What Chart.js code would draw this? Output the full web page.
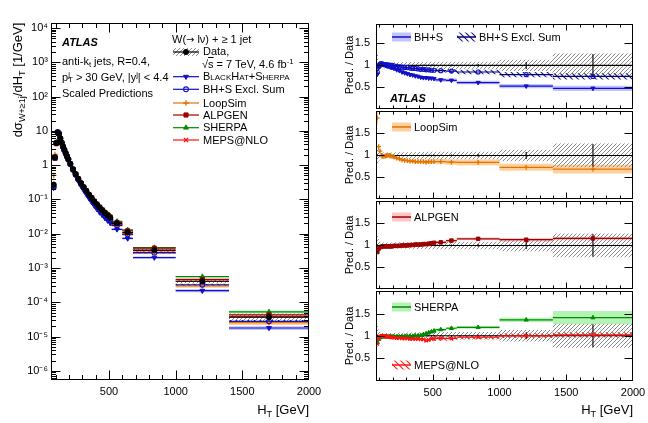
<!DOCTYPE html>
<html><head><meta charset="utf-8">
<script src="https://cdn.jsdelivr.net/npm/chart.js@4.4.1/dist/chart.umd.min.js"></script>
<style>
html,body{margin:0;padding:0;}
body{width:648px;height:423px;position:relative;overflow:hidden;background:#fff;font-family:"Liberation Sans",Arial,Helvetica,sans-serif;color:#000;}
canvas{position:absolute;display:block;}
.t{position:absolute;white-space:nowrap;line-height:1;}
.f12{font-size:12px;} .f11{font-size:11px;} .f13{font-size:13px;}
.atl{font-weight:bold;font-style:italic;}
.rot{position:absolute;white-space:nowrap;line-height:1;transform:translate(-50%,-50%) rotate(-90deg);}
sub,sup{font-size:70%;line-height:0;position:relative;vertical-align:baseline;}
sub{bottom:-0.3em;} sup{top:-0.5em;}
.ss{display:inline-block;vertical-align:-0.25em;line-height:0.75;font-size:70%;text-align:left;}
.sc{font-variant:small-caps;}
.dj{font-family:"DejaVu Sans",sans-serif;font-size:90%;}
</style></head><body>
<canvas id="cMain" width="329" height="423" style="left:0;top:0;width:329px;height:423px"></canvas>
<canvas id="cP1" width="326" height="111" style="left:330px;top:11px;width:326px;height:111px"></canvas>
<canvas id="cP2" width="326" height="114" style="left:330px;top:98px;width:326px;height:114px"></canvas>
<canvas id="cP3" width="326" height="114" style="left:330px;top:188px;width:326px;height:114px"></canvas>
<canvas id="cP4" width="326" height="145" style="left:330px;top:278px;width:326px;height:145px"></canvas>

<!-- left panel texts -->
<div class="rot f13" style="left:17px;top:80px">dσ<sub>W+≥1j</sub>/dH<sub>T</sub> [1/GeV]</div>
<div class="t f13" style="right:339px;top:403px">H<sub>T</sub> [GeV]</div>
<div class="t f11 atl" style="left:62px;top:36.5px">ATLAS</div>
<div class="t f11" style="left:62px;top:55.5px">anti-k<sub>t</sub> jets, R=0.4,</div>
<div class="t f11" style="left:62px;top:71.5px">p<span class="ss">j<br>T</span> &gt; 30 GeV, |y<sup>j</sup>| &lt; 4.4</div>
<div class="t f11" style="left:62px;top:87.5px">Scaled Predictions</div>
<div class="t f11" style="left:172px;top:33.5px">W(<span class="dj">→</span> lν) + ≥ 1 jet</div>
<div class="t f11" style="left:203px;top:46px">Data,</div>
<div class="t f11" style="left:202px;top:58.5px">√<span style="text-decoration:overline">s</span> = 7 TeV, 4.6 fb<sup>-1</sup></div>
<div class="t f11" style="left:203px;top:71px"><span class="sc">BlackHat+Sherpa</span></div>
<div class="t f11" style="left:203px;top:83.5px">BH+S Excl. Sum</div>
<div class="t f11" style="left:203px;top:97.5px">LoopSim</div>
<div class="t f11" style="left:203px;top:109.5px">ALPGEN</div>
<div class="t f11" style="left:203px;top:122px">SHERPA</div>
<div class="t f11" style="left:203px;top:134.5px">MEPS@NLO</div>

<!-- right panel texts -->
<div class="rot f11" style="left:349px;top:65px">Pred. / Data</div>
<div class="rot f11" style="left:349px;top:155px">Pred. / Data</div>
<div class="rot f11" style="left:349px;top:245px">Pred. / Data</div>
<div class="rot f11" style="left:349px;top:336px">Pred. / Data</div>
<div class="t f13" style="right:15px;top:403px">H<sub>T</sub> [GeV]</div>
<div class="t f11" style="left:414px;top:31.5px">BH+S</div>
<div class="t f11" style="left:479px;top:31.5px">BH+S Excl. Sum</div>
<div class="t f11 atl" style="left:390px;top:92.5px">ATLAS</div>
<div class="t f11" style="left:414px;top:121.5px">LoopSim</div>
<div class="t f11" style="left:414px;top:211.5px">ALPGEN</div>
<div class="t f11" style="left:414px;top:301.5px">SHERPA</div>
<div class="t f11" style="left:414px;top:359.5px">MEPS@NLO</div>

<script>
// ---------------- data ----------------
const binEdges = [80,90,100,110,120,130,140,150,160,170,180,190,200,220,240,260,280,300,320,340,360,380,400,420,440,460,480,500,520,600,680,1000,1400,2000];
// measured dsigma/dHT [1/GeV]
const dataXsec = [0.27,1.7,4.4,9.0,8.2,6.0,4.5,3.5,2.8,2.25,1.82,1.48,1.1,0.76,0.55,0.40,0.30,0.23,0.178,0.138,0.11,0.087,0.071,0.058,0.048,0.040,0.034,0.029,0.020,0.011,0.0033,0.00041,0.000037];
// relative statistical error of data
const dataStatRel = [0.02,0.01,0.005,0.005,0.005,0.005,0.005,0.005,0.005,0.005,0.005,0.005,0.005,0.005,0.005,0.006,0.006,0.007,0.008,0.009,0.01,0.011,0.012,0.013,0.015,0.016,0.018,0.02,0.015,0.02,0.03,0.08,0.26];
// relative total uncertainty band of data
const dataBandRel = [0.24,0.14,0.09,0.07,0.065,0.065,0.065,0.065,0.065,0.065,0.065,0.065,0.065,0.07,0.07,0.07,0.07,0.075,0.075,0.075,0.08,0.08,0.08,0.08,0.085,0.085,0.085,0.085,0.085,0.085,0.085,0.13,0.27];
// prediction / data ratios and their band half-widths
const ratioBHS = [0.80,0.95,1.02,1.03,1.02,1.01,1.00,0.99,0.98,0.97,0.96,0.95,0.93,0.90,0.88,0.85,0.83,0.81,0.79,0.78,0.76,0.75,0.73,0.72,0.72,0.71,0.71,0.70,0.67,0.66,0.61,0.53,0.48];
const bandBHS = [0.06,0.04,0.03,0.03,0.03,0.03,0.03,0.03,0.03,0.03,0.03,0.03,0.03,0.03,0.03,0.03,0.03,0.03,0.03,0.03,0.03,0.03,0.03,0.03,0.03,0.03,0.03,0.03,0.04,0.04,0.04,0.05,0.06];
const ratioBHSExcl = [0.85,0.98,1.03,1.04,1.03,1.02,1.02,1.01,1.01,1.00,1.00,1.00,0.99,0.98,0.97,0.96,0.95,0.95,0.94,0.93,0.93,0.92,0.91,0.91,0.90,0.90,0.89,0.89,0.88,0.87,0.85,0.79,0.75];
const bandBHSExcl = [0.06,0.04,0.03,0.03,0.03,0.03,0.03,0.03,0.03,0.03,0.03,0.03,0.03,0.03,0.03,0.03,0.03,0.03,0.03,0.03,0.03,0.03,0.035,0.035,0.035,0.035,0.035,0.035,0.04,0.04,0.05,0.06,0.07];
const ratioLoopSim = [1.85,1.20,1.10,1.00,0.98,0.98,0.99,0.99,1.00,1.00,0.99,0.98,0.96,0.94,0.92,0.90,0.89,0.88,0.87,0.87,0.86,0.86,0.86,0.86,0.85,0.86,0.86,0.86,0.86,0.85,0.84,0.73,0.69];
const bandLoopSim = [0.15,0.06,0.04,0.03,0.03,0.03,0.03,0.03,0.03,0.03,0.03,0.03,0.03,0.035,0.035,0.035,0.04,0.04,0.04,0.04,0.045,0.045,0.045,0.045,0.05,0.05,0.05,0.05,0.06,0.06,0.07,0.08,0.10];
const ratioAlpgen = [0.85,0.93,0.96,0.97,0.98,0.98,0.98,0.98,0.98,0.98,0.98,0.98,0.99,0.99,0.99,1.00,1.00,1.00,1.01,1.01,1.02,1.02,1.02,1.03,1.03,1.04,1.05,1.06,1.07,1.11,1.15,1.13,1.16];
const bandAlpgen = [0.03,0.02,0.02,0.02,0.02,0.02,0.02,0.02,0.02,0.02,0.02,0.02,0.02,0.02,0.02,0.02,0.02,0.02,0.02,0.02,0.02,0.02,0.02,0.02,0.02,0.025,0.025,0.025,0.03,0.03,0.03,0.04,0.04];
const ratioSherpa = [0.85,0.92,0.96,0.98,0.98,0.98,0.98,0.98,0.98,0.98,0.98,0.98,0.98,0.98,0.98,0.98,0.99,0.99,0.99,0.99,1.00,1.00,1.01,1.03,1.05,1.07,1.09,1.11,1.14,1.17,1.19,1.36,1.41];
const bandSherpa = [0.03,0.02,0.02,0.02,0.02,0.02,0.02,0.02,0.02,0.02,0.02,0.02,0.02,0.02,0.02,0.02,0.02,0.02,0.02,0.02,0.02,0.02,0.02,0.02,0.025,0.025,0.025,0.025,0.03,0.03,0.03,0.05,0.15];
const ratioMeps = [0.82,0.93,0.98,1.00,1.00,0.99,0.99,0.98,0.98,0.97,0.97,0.96,0.96,0.95,0.95,0.94,0.94,0.94,0.93,0.93,0.93,0.93,0.92,0.92,0.89,0.91,0.93,0.93,0.94,0.94,0.97,1.00,1.02];
const bandMeps = [0.06,0.05,0.04,0.04,0.04,0.04,0.04,0.04,0.04,0.04,0.04,0.04,0.04,0.04,0.04,0.04,0.04,0.04,0.04,0.04,0.04,0.04,0.04,0.04,0.04,0.04,0.04,0.04,0.05,0.05,0.05,0.05,0.06];
// axis tick values / labels
const mainXTicks = [500,1000,1500,2000];
const mainXMinor = [100,200,300,400,600,700,800,900,1100,1200,1300,1400,1600,1700,1800,1900];
const mainYDecades = [1e-6,1e-5,1e-4,1e-3,1e-2,1e-1,1,10,100,1000,10000];
const ratioYTicks = [0.5,1,1.5];
const ratioXTicks = [500,1000,1500,2000];
const ratioXMinor = [100,200,300,400,600,700,800,900,1100,1200,1300,1400,1600,1700,1800,1900];

// ---------------- styles ----------------
const FONT = '"Liberation Sans", Arial, Helvetica, sans-serif';
const C = {bhs:'#1010c8', bhsx:'#00007a', loop:'#e07400', alp:'#a00000', sh:'#008a00', meps:'#ff1010', data:'#000'};
const FILL = {bhs:'rgba(110,110,255,0.42)', loop:'rgba(255,150,40,0.45)', alp:'rgba(255,110,110,0.40)', sh:'rgba(70,225,70,0.40)'};
function hatch(color, s, lw, dir){
  const c=document.createElement('canvas'); c.width=c.height=s; const g=c.getContext('2d');
  g.strokeStyle=color; g.lineWidth=lw; g.beginPath();
  if(dir>0){ g.moveTo(0,s); g.lineTo(s,0); g.moveTo(-2,2); g.lineTo(2,-2); g.moveTo(s-2,s+2); g.lineTo(s+2,s-2); }
  else { g.moveTo(0,0); g.lineTo(s,s); g.moveTo(-2,s-2); g.lineTo(2,s+2); g.moveTo(s-2,-2); g.lineTo(s+2,2); }
  g.stroke(); return g.createPattern(c,'repeat');
}
const HATCH = {data:hatch('#8a8a8a',4,1,1), bhsx:hatch('#1a1a90',6,1.1,-1), meps:hatch('#ff2020',6,1.1,-1)};
const MK = {
  data:{style:'circle',r:2.6,fill:'#000',stroke:'#000',bw:1},
  bhs:{style:'triangle',rot:180,r:2.8,fill:C.bhs,stroke:C.bhs,bw:1},
  bhsx:{style:'circle',r:2.4,fill:'rgba(255,255,255,0)',stroke:C.bhs,bw:1.1},
  loop:{style:'cross',r:2.8,fill:C.loop,stroke:C.loop,bw:1.3},
  alp:{style:'rect',r:2.9,fill:C.alp,stroke:C.alp,bw:1},
  sh:{style:'triangle',r:2.8,fill:C.sh,stroke:C.sh,bw:1},
  meps:{style:'crossRot',r:2.8,fill:C.meps,stroke:C.meps,bw:1.3}
};

// ---------------- helpers ----------------
const lo=i=>binEdges[i], hi=i=>binEdges[i+1], mid=i=>(binEdges[i]+binEdges[i+1])/2;
function stepPts(v){const p=[];v.forEach((y,i)=>{p.push({x:lo(i),y},{x:hi(i),y});});return p;}
function segPts(v){const p=[];v.forEach((y,i)=>{p.push({x:lo(i),y},{x:hi(i),y},{x:hi(i),y:null});});return p;}
function ctrPts(v){return v.map((y,i)=>({x:mid(i),y}));}
function errPts(a,b){const p=[];a.forEach((y,i)=>{p.push({x:mid(i),y},{x:mid(i),y:b[i]},{x:mid(i),y:null});});return p;}
const mul=(a,b)=>a.map((v,i)=>v*b[i]);
const add=(a,b,s)=>a.map((v,i)=>v+s*b[i]);
function lineDS(data,color,width,order,extra){return Object.assign({type:'line',data,borderColor:color,borderWidth:width,pointRadius:0,pointHoverRadius:0,fill:false,tension:0,spanGaps:false,order},extra||{});}
function bandDS(up,dn,fill,order){return [lineDS(stepPts(up),'rgba(0,0,0,0)',1,order,{fill:'+1',backgroundColor:fill}), lineDS(stepPts(dn),'rgba(0,0,0,0)',1,order)];}
function markDS(pts,m,order){return {type:'line',data:pts,showLine:false,pointStyle:m.style,pointRadius:m.r,pointHoverRadius:m.r,pointRotation:m.rot||0,pointBackgroundColor:m.fill,pointBorderColor:m.stroke,pointBorderWidth:m.bw,order};}

function frameTicks(cfg){return {id:'frameTicks',afterDatasetsDraw(chart){
  const ctx=chart.ctx,a=chart.chartArea,xs=chart.scales.x,ys=chart.scales.y;
  const L=Math.round(a.left)+0.5,R=Math.round(a.right)-0.5,T=Math.round(a.top)+0.5,B=Math.round(a.bottom)-0.5;
  ctx.save();ctx.strokeStyle='#000';ctx.lineWidth=1;ctx.beginPath();
  const xt=(vals,len)=>vals.forEach(v=>{if(v<=xs.min||v>=xs.max)return;const p=Math.round(xs.getPixelForValue(v))+0.5;ctx.moveTo(p,B);ctx.lineTo(p,B-len);ctx.moveTo(p,T);ctx.lineTo(p,T+len);});
  const yt=(vals,len)=>vals.forEach(v=>{if(v<=ys.min||v>=ys.max)return;const p=Math.round(ys.getPixelForValue(v))+0.5;ctx.moveTo(L,p);ctx.lineTo(L+len,p);ctx.moveTo(R,p);ctx.lineTo(R-len,p);});
  xt(cfg.xMajor,cfg.xMajLen);xt(cfg.xMinor,cfg.xMinLen);yt(cfg.yMajor,cfg.yMajLen);yt(cfg.yMinor||[],cfg.yMinLen||0);
  ctx.stroke();ctx.strokeRect(L,T,R-L,B-T);ctx.restore();
}};}
function symbols(items,ox,oy){return {id:'symbols',afterDraw(chart){
  const ctx=chart.ctx;ctx.save();
  items.forEach(it=>{const x1=it.x1-ox,x2=it.x2-ox,y=it.y-oy;
    if(it.band){ctx.fillStyle=it.band;ctx.fillRect(x1,y-it.h/2,x2-x1,it.h);}
    if(it.line){ctx.strokeStyle=it.line;ctx.lineWidth=it.lw||1.2;ctx.beginPath();ctx.moveTo(x1,y);ctx.lineTo(x2,y);ctx.stroke();}
    if(it.m){const m=it.m;ctx.fillStyle=m.fill;ctx.strokeStyle=m.stroke;ctx.lineWidth=m.bw;
      Chart.helpers.drawPoint(ctx,{pointStyle:m.style,radius:m.r,rotation:m.rot||0,borderWidth:m.bw},(x1+x2)/2,y);}
  });ctx.restore();}};}

const SUP={'-':'⁻','0':'⁰','1':'¹','2':'²','3':'³','4':'⁴','5':'⁵','6':'⁶','7':'⁷','8':'⁸','9':'⁹'};
function decadeLabel(v){const e=Math.round(Math.log10(v));if(e===0)return '1';if(e===1)return '10';return '10'+String(e).split('').map(c=>SUP[c]).join('');}

function makeOptions(o){
  return {
    responsive:false,animation:false,events:[],
    layout:{padding:{left:0,right:o.padR,top:o.padT,bottom:o.padB}},
    plugins:{legend:{display:false},tooltip:{enabled:false}},
    scales:{
      x:{type:'linear',min:o.xmin,max:o.xmax,display:o.showX,
         grid:{display:false,drawTicks:false},border:{display:false},
         afterBuildTicks:s=>{s.ticks=o.xTicks.map(v=>({value:v}));},
         afterFit:s=>{s.height=o.xH;},
         ticks:{autoSkip:false,maxRotation:0,minRotation:0,padding:5,color:'#000',font:{family:FONT,size:11},callback:v=>String(v)}},
      y:{type:o.ylog?'logarithmic':'linear',min:o.ymin,max:o.ymax,
         grid:{display:false,drawTicks:false},border:{display:false},
         afterBuildTicks:s=>{s.ticks=o.yTicks.map(v=>({value:v}));},
         afterFit:s=>{s.width=o.yW;},
         ticks:{autoSkip:false,padding:o.yPad,color:'#000',font:{family:FONT,size:11},callback:o.yLabel}}
    }
  };
}

// ---------------- main (left) chart ----------------
(function(){
  const ds=[];
  const preds=[
    {r:ratioBHS,b:bandBHS,c:C.bhs,f:FILL.bhs,m:MK.bhs},
    {r:ratioBHSExcl,b:bandBHSExcl,c:C.bhs,f:HATCH.bhsx,m:MK.bhsx},
    {r:ratioLoopSim,b:bandLoopSim,c:C.loop,f:FILL.loop,m:MK.loop},
    {r:ratioAlpgen,b:bandAlpgen,c:C.alp,f:FILL.alp,m:MK.alp},
    {r:ratioSherpa,b:bandSherpa,c:C.sh,f:FILL.sh,m:MK.sh},
    {r:ratioMeps,b:bandMeps,c:C.meps,f:HATCH.meps,m:MK.meps}
  ];
  preds.forEach(p=>{
    const val=mul(dataXsec,p.r);
    ds.push(...bandDS(mul(dataXsec,add(p.r,p.b,1)),mul(dataXsec,add(p.r,p.b,-1)),p.f,90));
    ds.push(lineDS(segPts(val),p.c,1.2,50));
    ds.push(markDS(ctrPts(val),p.m,40));
  });
  ds.push(...bandDS(dataXsec.map((v,i)=>v*(1+dataBandRel[i])),dataXsec.map((v,i)=>v*(1-dataBandRel[i])),HATCH.data,80));
  ds.push(lineDS(segPts(dataXsec),'#000',1.2,20));
  ds.push(lineDS(errPts(dataXsec.map((v,i)=>v*(1-dataStatRel[i])),dataXsec.map((v,i)=>v*(1+dataStatRel[i]))),'#000',1.2,20));
  ds.push(markDS(ctrPts(dataXsec),MK.data,10));
  const yMinor=[];mainYDecades.concat([1e-7]).forEach(d=>{for(let k=2;k<=9;k++)yMinor.push(k*d);});
  const legendItems=[
    {x1:173,x2:199,y:52,band:HATCH.data,h:8,line:'#000',lw:1.2,m:MK.data},
    {x1:173,x2:199,y:76.7,line:C.bhs,m:MK.bhs},
    {x1:173,x2:199,y:89.3,line:C.bhs,m:MK.bhsx},
    {x1:173,x2:199,y:103,line:C.loop,m:MK.loop},
    {x1:173,x2:199,y:115,line:C.alp,m:MK.alp},
    {x1:173,x2:199,y:127.7,line:C.sh,m:MK.sh},
    {x1:173,x2:199,y:140,line:C.meps,m:MK.meps}
  ];
  new Chart(document.getElementById('cMain'),{type:'line',data:{datasets:ds},
    options:makeOptions({padR:20,padT:23,padB:0,xmin:65,xmax:2000,showX:true,xH:43,xTicks:mainXTicks,
      ylog:true,ymin:5.4e-7,ymax:1.4e4,yTicks:mainYDecades,yW:51,yPad:3,yLabel:decadeLabel}),
    plugins:[frameTicks({xMajor:mainXTicks,xMajLen:9,xMinor:mainXMinor,xMinLen:4.5,yMajor:mainYDecades,yMajLen:9,yMinor:yMinor,yMinLen:4.5}),symbols(legendItems,0,0)]});
})();

// ---------------- ratio panels ----------------
function ratioPanel(id,top,preds,legendItems,cfg){
  const ds=[];
  preds.forEach(p=>{ds.push(...bandDS(add(p.r,p.b,1),add(p.r,p.b,-1),p.f,90));});
  ds.push(...bandDS(dataBandRel.map(v=>1+v),dataBandRel.map(v=>1-v),HATCH.data,80));
  ds.push(lineDS(stepPts(dataXsec.map(v=>v/v)),'#000',1.1,60));
  ds.push(lineDS(errPts(dataStatRel.map(v=>1-v),dataStatRel.map(v=>1+v)),'#000',1.1,60));
  preds.forEach((p,k)=>{ds.push(lineDS(segPts(p.r),p.c,1.2,50-k*5));ds.push(markDS(ctrPts(p.r),p.m,40-k*5));});
  const mk=Object.assign({},cfg);
  new Chart(document.getElementById(id),{type:'line',data:{datasets:ds},
    options:makeOptions(Object.assign({padR:23,padT:12,xmin:75,xmax:2000,xTicks:ratioXTicks,ylog:false,yTicks:ratioYTicks,yW:46,yPad:6,yLabel:v=>String(v)},mk)),
    plugins:[frameTicks({xMajor:ratioXTicks,xMajLen:6,xMinor:ratioXMinor,xMinLen:3,yMajor:ratioYTicks,yMajLen:8}),symbols(legendItems,330,top)]});
}
const rmk=m=>Object.assign({},m,{r:m.r*0.85});
ratioPanel('cP1',11,[
  {r:ratioBHS,b:bandBHS,c:C.bhs,f:FILL.bhs,m:rmk(MK.bhs)},
  {r:ratioBHSExcl,b:bandBHSExcl,c:C.bhsx,f:HATCH.bhsx,m:rmk(MK.bhsx)}],
  [{x1:392,x2:411,y:37,band:FILL.bhs,h:9,line:C.bhs,lw:1.5},{x1:457,x2:476,y:37,band:HATCH.bhsx,h:9,line:C.bhsx,lw:1.5}],
  {padB:12,showX:false,xH:0,ymin:0,ymax:1.95});
ratioPanel('cP2',98,[{r:ratioLoopSim,b:bandLoopSim,c:C.loop,f:FILL.loop,m:rmk(MK.loop)}],
  [{x1:392,x2:411,y:127,band:FILL.loop,h:9,line:C.loop,lw:1.5}],
  {padB:12,showX:false,xH:0,ymin:0,ymax:2.02});
ratioPanel('cP3',188,[{r:ratioAlpgen,b:bandAlpgen,c:C.alp,f:FILL.alp,m:rmk(MK.alp)}],
  [{x1:392,x2:411,y:217,band:FILL.alp,h:9,line:C.alp,lw:1.5}],
  {padB:12,showX:false,xH:0,ymin:0,ymax:2.02});
ratioPanel('cP4',278,[
  {r:ratioSherpa,b:bandSherpa,c:C.sh,f:FILL.sh,m:rmk(MK.sh)},
  {r:ratioMeps,b:bandMeps,c:C.meps,f:HATCH.meps,m:rmk(MK.meps)}],
  [{x1:392,x2:411,y:307,band:FILL.sh,h:9,line:C.sh,lw:1.5},{x1:392,x2:411,y:365,band:HATCH.meps,h:9,line:C.meps,lw:1.5}],
  {padB:0,showX:true,xH:42,ymin:-0.02,ymax:2.02});
</script>
</body></html>
